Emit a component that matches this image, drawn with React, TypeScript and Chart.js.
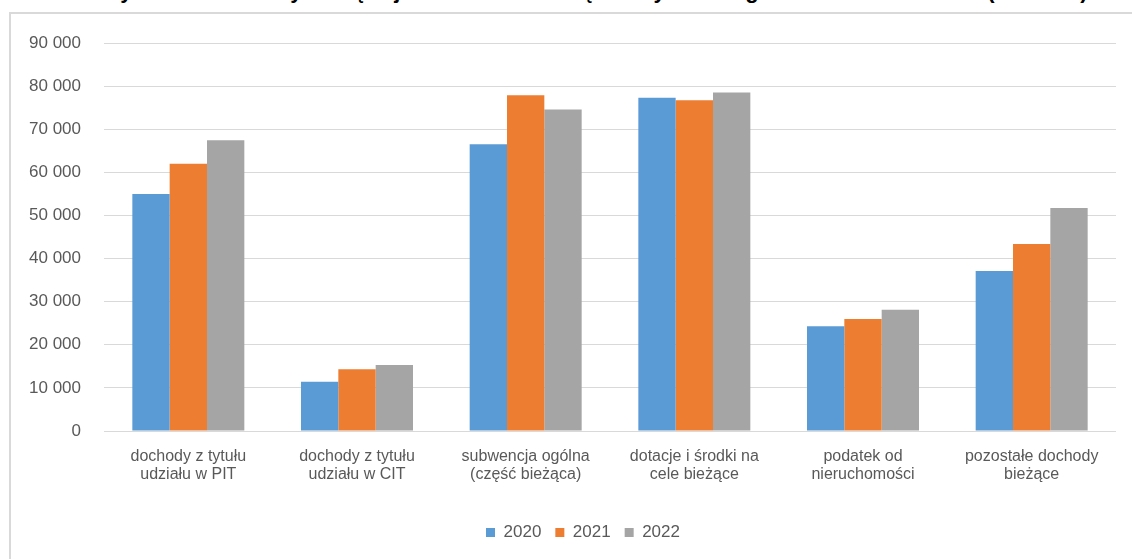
import React, { useEffect, useRef } from "react";
import { Chart, registerables } from "chart.js";

Chart.register(...registerables);

const categories: string[][] = [
  ["dochody z tytułu", "udziału w PIT"],
  ["dochody z tytułu", "udziału w CIT"],
  ["subwencja ogólna", "(część bieżąca)"],
  ["dotacje i środki na", "cele bieżące"],
  ["podatek od", "nieruchomości"],
  ["pozostałe dochody", "bieżące"],
];

const seriesLabels = ["2020", "2021", "2022"];
const values2020 = [55000, 11400, 66500, 77300, 24300, 37100];
const values2021 = [62000, 14350, 77900, 76700, 26000, 43400];
const values2022 = [67450, 15300, 74600, 78500, 28100, 51700];
const seriesColors = ["#5B9BD5", "#ED7D31", "#A5A5A5"];

const yMin = 0;
const yMax = 90000;
const yStep = 10000;

const titleText =
  "Wykres 2. Dochody bieżące jednostek samorządu terytorialnego w latach 2020–2022 (w mln zł)";

const FONT = "'Liberation Sans Narrow', 'Liberation Sans', Arial, sans-serif";
const TEXT = "#595959";

function fmt(v: number): string {
  return String(v).replace(/\B(?=(\d{3})+(?!\d))/g, " ");
}

export default function App() {
  const ref = useRef<HTMLCanvasElement | null>(null);

  useEffect(() => {
    if (!ref.current) return;
    const series = [values2020, values2021, values2022];
    const chart = new Chart(ref.current, {
      type: "bar",
      data: {
        labels: categories,
        datasets: series.map((vals, i) => ({
          label: seriesLabels[i],
          data: vals,
          backgroundColor: seriesColors[i],
          borderWidth: 0,
          categoryPercentage: 0.664,
          barPercentage: 1,
        })),
      },
      options: {
        animation: false,
        responsive: false,
        maintainAspectRatio: false,
        layout: { padding: { top: 29, bottom: 23, left: 0, right: 0 } },
        plugins: {
          tooltip: { enabled: false },
          legend: {
            position: "bottom",
            labels: {
              boxWidth: 9,
              boxHeight: 9,
              padding: 14,
              color: TEXT,
              font: { family: FONT, size: 17 },
            },
          },
        },
        scales: {
          x: {
            grid: { display: false },
            border: { display: false },
            ticks: {
              color: TEXT,
              font: { family: FONT, size: 16, lineHeight: 1.125 },
              padding: 9,
              maxRotation: 0,
              autoSkip: false,
            },
            afterFit: (s: any) => {
              s.height = 79;
            },
          },
          y: {
            min: yMin,
            max: yMax,
            grid: { color: "#D9D9D9", lineWidth: 1, drawTicks: false },
            border: { display: false },
            ticks: {
              stepSize: yStep,
              color: TEXT,
              padding: 23,
              font: { family: FONT, size: 17 },
              callback: (v: any) => fmt(Number(v)),
            },
            afterFit: (s: any) => {
              s.width = 93;
              s.paddingTop = 10;
              s.paddingBottom = 10;
            },
          },
          y2: {
            type: "linear",
            position: "right",
            display: true,
            grid: { display: false, drawTicks: false },
            border: { display: false },
            ticks: { display: false },
            afterFit: (s: any) => {
              s.width = 39;
            },
          },
        },
      } as any,
    });
    return () => chart.destroy();
  }, []);

  return (
    <div
      style={{
        position: "fixed",
        left: 0,
        top: 0,
        width: "100vw",
        height: "100vh",
        overflow: "hidden",
        background: "#fff",
      }}
    >
      <div
        style={{
          position: "absolute",
          top: -20,
          left: 100,
          whiteSpace: "nowrap",
          fontFamily: "'Liberation Sans', Arial, sans-serif",
          fontWeight: "bold",
          fontSize: 22,
          lineHeight: "22px",
          color: "#000",
        }}
      >
        {titleText}
      </div>
      <div
        style={{
          position: "absolute",
          left: 9,
          top: 12,
          width: 1170,
          height: 620,
          border: "2px solid #D9D9D9",
          boxSizing: "border-box",
        }}
      />
      <canvas
        ref={ref}
        width={1144}
        height={560}
        style={{ position: "absolute", left: 11, top: 14, width: 1144, height: 560 }}
      />
    </div>
  );
}
